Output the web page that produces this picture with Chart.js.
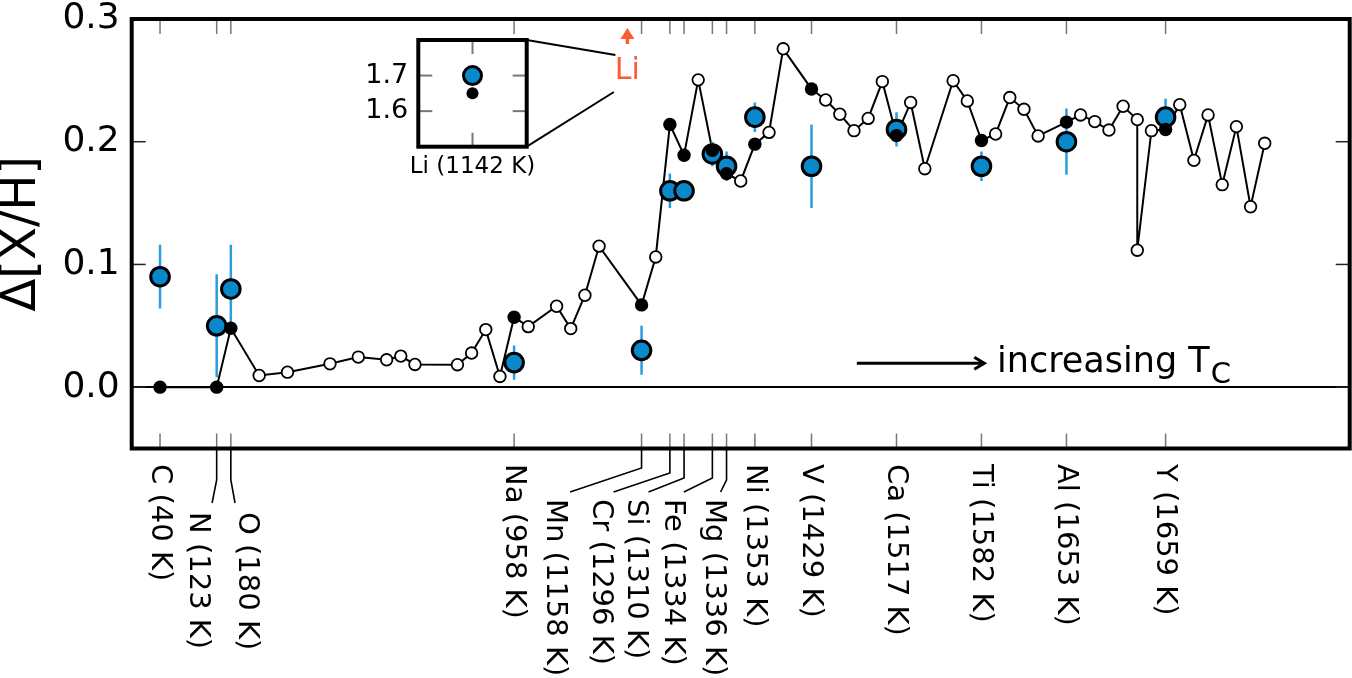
<!DOCTYPE html>
<html>
<head>
<meta charset="utf-8">
<script src="https://cdn.jsdelivr.net/npm/chart.js@4/dist/chart.umd.min.js"></script>
<style>
  html, body { margin: 0; padding: 0; background: #fff; }
  #wrap { position: relative; width: 1352px; height: 678px; overflow: hidden; }
  #mainChart { position: absolute; left: 0; top: 0; }
  #insetChart { position: absolute; }
</style>
</head>
<body>
<div id="wrap">
  <canvas id="mainChart" width="1352" height="678"></canvas>
  <canvas id="insetChart" width="215" height="165"></canvas>
</div>
<script>
const FONT = "'DejaVu Sans', sans-serif";
const BLUE = "#0a88cc";
const ERR_BLUE = "#2a9ddc";
const RED = "#ff5a36";

// labelled elements, ordered by condensation temperature
const elements = ["C", "N", "O", "Na", "Mn", "Cr", "Si", "Fe", "Mg", "Ni", "V", "Ca", "Ti", "Al", "Y"];
const condTemps = [40, 123, 180, 958, 1158, 1296, 1310, 1334, 1336, 1353, 1429, 1517, 1582, 1653, 1659];
const elementRank = [0, 4, 5, 25, 34, 36, 37, 39, 40, 42, 46, 52, 58, 64, 71];

// blue points with error bars
const blueValues = [0.09, 0.05, 0.08, 0.02, 0.03, 0.16, 0.16, 0.19, 0.18, 0.22, 0.18, 0.21, 0.18, 0.20, 0.22];
const blueErrors = [0.026, 0.042, 0.036, 0.014, 0.020, 0.014, 0.008, 0.010, 0.012, 0.012, 0.034, 0.014, 0.012, 0.027, 0.015];

// comparison curve at the labelled elements (filled black)
const blackValues = [0.0, 0.0, 0.048, 0.057, 0.067, 0.214, 0.189, 0.193, 0.174, 0.198, 0.243, 0.205, 0.201, 0.216, 0.210];

// comparison curve at the other elements (open circles)
const otherRank = [7, 9, 12, 14, 16, 17, 18, 21, 22, 23, 24, 26, 28, 29, 30, 31, 35, 38, 41, 43,
  44, 47, 48, 49, 50, 51, 53, 54, 56, 57, 59, 60, 61, 62, 65, 66, 67, 68, 69, 69,
  70, 72, 73, 74, 75, 76, 77, 78];
const otherValues = [0.0095, 0.0122, 0.019, 0.0245, 0.0223, 0.0253, 0.0185, 0.0183, 0.0278, 0.0469,
  0.0087, 0.0493, 0.0659, 0.0477, 0.0749, 0.1149, 0.1061, 0.2504, 0.168, 0.2076,
  0.2757, 0.234, 0.2224, 0.209, 0.219, 0.249, 0.232, 0.178, 0.2497, 0.2332,
  0.2063, 0.236, 0.2264, 0.2047, 0.2218, 0.2164, 0.2095, 0.2289, 0.218, 0.1116,
  0.209, 0.2302, 0.1848, 0.2218, 0.165, 0.2123, 0.147, 0.1987];

// lithium, off the main scale, shown in the inset
const liRank = 33;
const liTc = 1142;
const liBlue = 1.70;
const liBlack = 1.65;

const yTicks = [0.0, 0.1, 0.2, 0.3];
const insetTicks = [1.6, 1.7];

// where the rotated element labels go (px offsets / page px)
const labelLayout = {
  N:  { dx: -19.3, top: 512, knee: 480, end: [-4.6, 503] },
  O:  { dx: 15.2, top: 512, knee: 480, end: [4.2, 503] },
  Mn: { dx: -87, top: 499, knee: 468, end: [-71.5, 492] },
  Cr: { dx: -69.3, top: 499, knee: 473, end: [-56.3, 492] },
  Si: { dx: -48.7, top: 499, knee: 478, end: [-35.5, 492] },
  Fe: { dx: -40, top: 499, knee: 478, end: [-28.5, 492] },
  Mg: { dx: -13, top: 499, knee: 480, end: [-6, 492] }
};
const defaultLabel = { dx: -0.8, top: 464 };

const INSET_LEFT = 330;
const INSET_TOP = 28;

const bluePoints = elementRank.map((r, i) => ({ x: r, y: blueValues[i] }));
const blackPoints = elementRank.map((r, i) => ({ x: r, y: blackValues[i] }));
const otherPoints = otherRank.map((r, i) => ({ x: r, y: otherValues[i] }));
const linePoints = blackPoints.concat(otherPoints).sort((a, b) => a.x - b.x);
const errorSegments = [];
elementRank.forEach((r, i) => {
  errorSegments.push({ x: r, y: blueValues[i] - blueErrors[i] });
  errorSegments.push({ x: r, y: blueValues[i] + blueErrors[i] });
  errorSegments.push({ x: r, y: null });
});

function seg(ctx, x1, y1, x2, y2) {
  ctx.beginPath();
  ctx.moveTo(x1, y1);
  ctx.lineTo(x2, y2);
  ctx.stroke();
}

// keep the plot box where the layout padding puts it
function noPad(s) {
  s.paddingTop = 0;
  s.paddingBottom = 0;
  s.paddingLeft = 0;
  s.paddingRight = 0;
}

const insetDecor = {
  id: "insetDecor",
  afterDraw(chart) {
    const { ctx, chartArea: a, scales: { x, y } } = chart;
    ctx.save();
    ctx.strokeStyle = "#777";
    ctx.lineWidth = 2;
    insetTicks.forEach((v) => {
      const py = y.getPixelForValue(v);
      seg(ctx, a.left, py, a.left + 14, py);
      seg(ctx, a.right - 14, py, a.right, py);
    });
    const px = x.getPixelForValue(0.5);
    seg(ctx, px, a.top, px, a.top + 14);
    seg(ctx, px, a.bottom - 14, px, a.bottom);
    ctx.strokeStyle = "#000";
    ctx.lineWidth = 4;
    ctx.strokeRect(a.left, a.top, a.right - a.left, a.bottom - a.top);
    ctx.fillStyle = "#000";
    ctx.font = `23px ${FONT}`;
    ctx.textAlign = "center";
    ctx.textBaseline = "middle";
    ctx.fillText(`Li (${liTc} K)`, px, a.bottom + 20);
    ctx.restore();
  }
};

const insetCanvas = document.getElementById("insetChart");
insetCanvas.style.left = INSET_LEFT + "px";
insetCanvas.style.top = INSET_TOP + "px";

const insetChart = new Chart(insetCanvas, {
  type: "scatter",
  data: {
    datasets: [
      { data: [{ x: 0.5, y: liBlack }], pointRadius: 6, backgroundColor: "#000", borderWidth: 0, order: 1 },
      { data: [{ x: 0.5, y: liBlue }], pointRadius: 9, backgroundColor: BLUE, borderColor: "#000", borderWidth: 3, order: 2 }
    ]
  },
  options: {
    responsive: false,
    animation: false,
    events: [],
    layout: { autoPadding: false, padding: { left: 0, top: 12, right: 18.3, bottom: 46.3 } },
    plugins: { legend: { display: false }, tooltip: { enabled: false } },
    scales: {
      x: { type: "linear", min: 0, max: 1, display: false },
      y: {
        min: 1.5, max: 1.8,
        afterBuildTicks: (s) => { s.ticks = insetTicks.map((v) => ({ value: v })); },
        afterFit: (s) => { s.width = 88.3; noPad(s); },
        grid: { display: false, drawTicks: false },
        border: { display: false },
        ticks: { color: "#000", font: { family: FONT, size: 27 }, padding: 10, callback: (v) => v.toFixed(1) }
      }
    }
  },
  plugins: [insetDecor]
});

const mainDecor = {
  id: "mainDecor",
  afterDraw(chart) {
    const { ctx, chartArea: a, scales: { x, y } } = chart;
    ctx.save();

    // inward ticks
    ctx.strokeStyle = "#222";
    ctx.lineWidth = 1.5;
    yTicks.forEach((v) => {
      const py = y.getPixelForValue(v);
      seg(ctx, a.left, py, a.left + 14, py);
      seg(ctx, a.right - 14, py, a.right, py);
    });
    ctx.strokeStyle = "#777";
    elementRank.forEach((r) => {
      const px = x.getPixelForValue(r);
      seg(ctx, px, a.bottom, px, a.bottom - 15);
      seg(ctx, px, a.top, px, a.top + 15);
    });

    // frame
    ctx.strokeStyle = "#000";
    ctx.lineWidth = 4;
    ctx.strokeRect(a.left, a.top, a.right - a.left, a.bottom - a.top);

    // element labels, rotated, with leader lines where crowded
    ctx.lineWidth = 1.6;
    ctx.fillStyle = "#000";
    ctx.font = `29px ${FONT}`;
    elements.forEach((el, i) => {
      const px = x.getPixelForValue(elementRank[i]);
      const L = labelLayout[el] || defaultLabel;
      if (L.knee) {
        ctx.beginPath();
        ctx.moveTo(px, a.bottom);
        ctx.lineTo(px, L.knee);
        ctx.lineTo(px + L.end[0], L.end[1]);
        ctx.stroke();
      }
      ctx.save();
      ctx.translate(px + L.dx, L.top);
      ctx.rotate(Math.PI / 2);
      ctx.textAlign = "left";
      ctx.textBaseline = "middle";
      ctx.fillText(`${el} (${condTemps[i]} K)`, 0, 0);
      ctx.restore();
    });

    // increasing Tc arrow
    const ay = y.getPixelForValue(0.0194);
    const ax0 = x.getPixelForValue(49.2);
    const ax1 = x.getPixelForValue(58.2);
    ctx.lineWidth = 3;
    seg(ctx, ax0, ay, ax1 - 1, ay);
    ctx.beginPath();
    ctx.moveTo(ax1 - 10, ay - 6);
    ctx.lineTo(ax1, ay);
    ctx.lineTo(ax1 - 10, ay + 6);
    ctx.stroke();
    const tx = x.getPixelForValue(59.1);
    const ty = y.getPixelForValue(0.0123);
    ctx.font = `35px ${FONT}`;
    ctx.textAlign = "left";
    ctx.textBaseline = "alphabetic";
    ctx.fillText("increasing T", tx, ty);
    const w = ctx.measureText("increasing T").width;
    ctx.font = `29px ${FONT}`;
    ctx.fillText("C", tx + w + 1, ty + 11);

    // Li marker (off scale) and link to the inset
    const lx = x.getPixelForValue(liRank);
    ctx.fillStyle = RED;
    ctx.strokeStyle = RED;
    ctx.lineWidth = 3.5;
    seg(ctx, lx, a.top + 25, lx, a.top + 17);
    ctx.beginPath();
    ctx.moveTo(lx - 7, a.top + 20);
    ctx.lineTo(lx + 7, a.top + 20);
    ctx.lineTo(lx, a.top + 9);
    ctx.closePath();
    ctx.fill();
    ctx.font = `30px ${FONT}`;
    ctx.textAlign = "center";
    ctx.fillText("Li", lx, a.top + 60.3);

    const ia = insetChart.chartArea;
    ctx.strokeStyle = "#000";
    ctx.lineWidth = 2;
    seg(ctx, INSET_LEFT + ia.right, INSET_TOP + ia.top, lx - 12, a.top + 36);
    seg(ctx, INSET_LEFT + ia.right, INSET_TOP + ia.bottom, lx - 13.5, a.top + 73);

    ctx.restore();
  }
};

new Chart(document.getElementById("mainChart"), {
  type: "scatter",
  data: {
    datasets: [
      { data: linePoints, showLine: true, borderColor: "#000", borderWidth: 2, pointRadius: 0, order: 5 },
      { data: errorSegments, showLine: true, spanGaps: false, borderColor: ERR_BLUE, borderWidth: 2.5, pointRadius: 0, order: 4 },
      { data: bluePoints, pointRadius: 9.3, backgroundColor: BLUE, borderColor: "#000", borderWidth: 3, order: 3 },
      { data: otherPoints, pointRadius: 5.8, backgroundColor: "#fff", borderColor: "#000", borderWidth: 1.8, order: 2 },
      { data: blackPoints, pointRadius: 6.7, backgroundColor: "#000", borderWidth: 0, order: 1 }
    ]
  },
  options: {
    responsive: false,
    animation: false,
    events: [],
    layout: { autoPadding: false, padding: { left: 0, top: 19, right: 2.3, bottom: 229.5 } },
    plugins: { legend: { display: false }, tooltip: { enabled: false } },
    scales: {
      x: { type: "linear", min: -2, max: 84, display: false },
      y: {
        min: -0.05, max: 0.3,
        afterBuildTicks: (s) => { s.ticks = yTicks.map((v) => ({ value: v })); },
        afterFit: (s) => { s.width = 131.7; noPad(s); },
        grid: {
          drawTicks: false,
          lineWidth: 2,
          color: (c) => (c.tick && c.tick.value === 0 ? "#000" : "rgba(0,0,0,0)")
        },
        border: { display: false },
        ticks: { color: "#000", font: { family: FONT, size: 36 }, padding: 12, callback: (v) => v.toFixed(1) },
        title: { display: true, text: "Δ[X/H]", color: "#000", font: { family: FONT, size: 48, lineHeight: 0.92 }, padding: 0 }
      }
    }
  },
  plugins: [mainDecor]
});
</script>
</body>
</html>
